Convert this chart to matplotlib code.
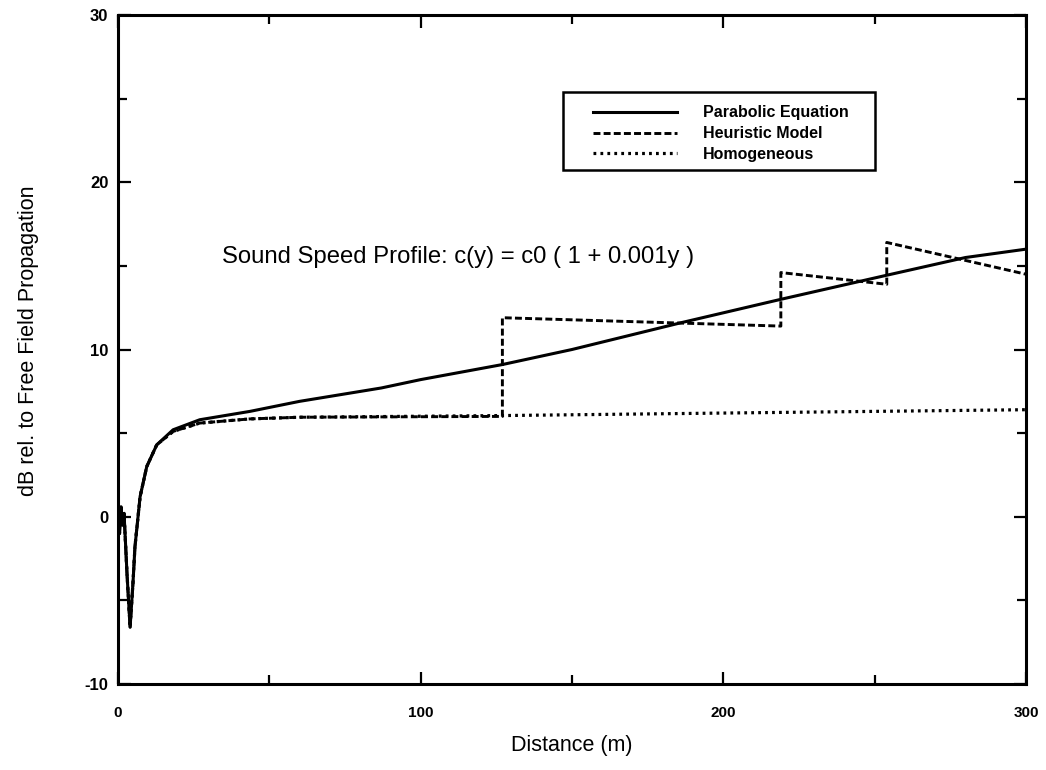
import matplotlib
matplotlib.use("Agg")
import matplotlib.pyplot as plt
from matplotlib.patches import Rectangle

plt.rcParams['font.family'] = ['Liberation Sans', 'DejaVu Sans']
plt.rcParams['lines.scale_dashes'] = False
plt.rcParams['axes.unicode_minus'] = False

# Parabolic Equation
pe_x = [0, 0.5, 1.0, 1.5, 2.0, 3.0, 4.0, 5.0, 5.6, 7.3, 9.5, 12.8, 18.2, 27, 43.6, 60, 87, 100, 127, 150, 186, 219, 253, 280, 300]
pe_y = [0.3, -1.0, 0.6, -0.5, 0.2, -3.5, -6.6, -3.8, -1.8, 1.2, 3.0, 4.3, 5.2, 5.8, 6.3, 6.9, 7.7, 8.2, 9.1, 10.0, 11.6, 13.0, 14.4, 15.5, 16.0]

# Homogeneous
hom_x = [0, 0.5, 1.0, 1.5, 2.0, 3.0, 4.0, 5.0, 5.6, 7.3, 9.5, 12.8, 18.2, 27, 43.6, 60, 127, 200, 300]
hom_y = [0.3, -1.0, 0.6, -0.5, 0.2, -3.5, -6.6, -3.8, -1.8, 1.2, 3.0, 4.3, 5.1, 5.6, 5.85, 5.95, 6.05, 6.2, 6.4]

# Heuristic Model
heu_x = [0, 0.5, 1.0, 1.5, 2.0, 3.0, 4.0, 5.0, 5.6, 7.3, 9.5, 12.8, 18.2, 27, 43.6, 60, 127, 127, 219, 219, 254, 254, 300]
heu_y = [0.3, -1.0, 0.6, -0.5, 0.2, -3.5, -6.6, -3.8, -1.8, 1.2, 3.0, 4.3, 5.1, 5.6, 5.85, 5.95, 6.0, 11.9, 11.4, 14.6, 13.9, 16.4, 14.5]

xticks = [0, 100, 200, 300]
yticks = [-10, 0, 10, 20, 30]
xminor = [50, 150, 250]
yminor = [-5, 5, 15, 25]

fig = plt.figure(figsize=(10.46, 7.70), dpi=100)
ax = fig.add_axes([118/1046, 86/770, 908/1046, 669/770])

ax.plot(pe_x, pe_y, color='black', lw=2.2, label='Parabolic Equation')
ax.plot(heu_x, heu_y, color='black', lw=2.1, dashes=(5, 2.3), label='Heuristic Model')
ax.plot(hom_x, hom_y, color='black', lw=2.3, dashes=(2.0, 3.0), label='Homogeneous')

ax.set_xlim(0, 300)
ax.set_ylim(-10, 30)
ax.set_xticks(xticks)
ax.set_yticks(yticks)
ax.set_xticks(xminor, minor=True)
ax.set_yticks(yminor, minor=True)
ax.tick_params(which='both', direction='in', top=True, right=True, width=1.6)
ax.tick_params(which='major', length=9)
ax.tick_params(which='minor', length=6.5)
ax.tick_params(axis='x', which='major', labelsize=11, pad=16)
ax.tick_params(axis='y', which='major', labelsize=12, pad=7)
for lab in ax.get_xticklabels() + ax.get_yticklabels():
    lab.set_fontweight('bold')
for sp in ax.spines.values():
    sp.set_linewidth(2.2)

ax.set_xlabel('Distance (m)', fontsize=15.5, labelpad=11)
fig.text(29/1046, 1 - 341/770, 'dB rel. to Free Field Propagation', fontsize=15.5,
         rotation=90, ha='center', va='center')

ax.text((222 - 118)/908, (684 - 257)/669, 'Sound Speed Profile: c(y) = c0 ( 1 + 0.001y )',
        transform=ax.transAxes, fontsize=17.2, va='center', ha='left')

# legend frame
ax.add_patch(Rectangle((445/908, (684 - 170)/669), 312/908, 78/669, transform=ax.transAxes,
                       fill=False, edgecolor='black', lw=1.8, zorder=5))
leg = ax.legend(loc='upper left', bbox_to_anchor=((593 - 118)/908, (684 - 105.5)/669),
                frameon=False, fontsize=11.5, handlelength=84/16, handletextpad=26/16,
                labelspacing=0.36, borderpad=0, borderaxespad=0)
for t in leg.get_texts():
    t.set_fontweight('bold')

fig.savefig('out.png', dpi=100)
